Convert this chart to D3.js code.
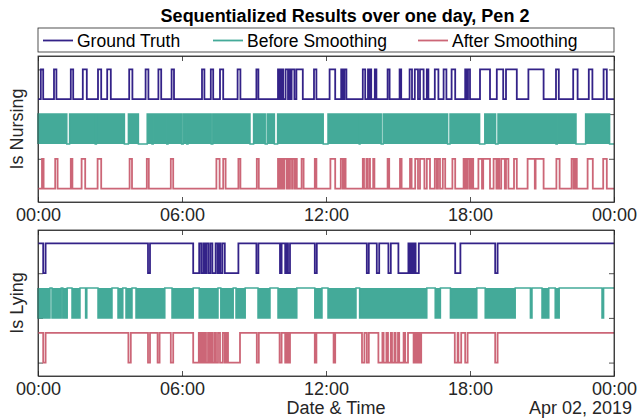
<!DOCTYPE html>
<html>
<head>
<meta charset="utf-8">
<script src="https://cdn.jsdelivr.net/npm/d3@7"></script>
<style>
  body { margin: 0; background: #fff; }
  text { font-family: "Liberation Sans", Arial, sans-serif; }
</style>
</head>
<body>
<div id="vis"></div>
<script>
// series names and colours
let seriesNames = ['Ground Truth', 'Before Smoothing', 'After Smoothing'];
let seriesColors = ['#332288', '#44AA99', '#CC6677'];

// x tick hours
let tickHours = [0, 6, 12, 18, 24];

// --- Is Nursing (hours of day) ---
// ground truth: intervals where nursing = 1
let nurseTruth = [[0.12,0.22],[0.66,0.76],[1.36,1.46],[1.86,2.04],[2.5,2.64],[2.88,3.03],[3.8,3.94],
  [4.48,4.6],[5.02,5.14],[5.56,5.66],[6.84,6.94],[7.2,7.3],[7.58,7.72],[8.32,8.44],[9.1,9.18],
  [10.0,10.04],[10.08,10.12],[10.16,10.21],[10.31,10.42],[10.46,10.52],[10.56,10.69],[10.76,11.04],
  [11.5,11.6],[12.15,12.39],[12.64,12.7],[12.76,12.85],[13.54,13.64],[13.75,13.8],[13.84,13.89],
  [14.03,14.1],[14.56,14.65],[15.07,15.14],[15.49,15.58],[15.7,15.83],[15.92,16.06],[16.2,16.27],
  [16.54,16.68],[16.9,17.02],[17.24,17.38],[17.8,17.86],[17.92,18.0],[18.42,18.84],[19.11,19.39],
  [19.5,19.95],[20.43,21.06],[21.58,21.7],[22.3,22.48],[22.95,23.1],[23.56,23.7]];
// before smoothing: quiet stretches (held at 0), otherwise flickering
let nurseRawQuiet = [[1.2,1.31],[2.38,2.43],[3.6,3.76],[4.18,4.55],[4.75,4.8],[5.36,5.42],[5.98,6.05],
  [6.2,6.25],[7.22,7.28],[8.83,8.98],[9.47,9.55],[9.85,9.98],[11.88,12.08],[13.38,13.42],[14.3,14.38],
  [17.06,17.16],[18.4,18.62],[19.07,19.17],[21.58,21.64],[22.42,22.82],[23.82,24]];
// after smoothing: intervals where nursing = 1
let nurseSmooth = [[0.17,0.24],[0.71,0.81],[1.36,1.44],[1.82,1.96],[2.49,2.63],[3.81,3.92],[4.53,4.62],
  [5.54,5.64],[7.44,7.56],[7.72,7.81],[8.35,8.44],[9.11,9.2],[10.0,10.05],[10.08,10.14],[10.18,10.22],
  [10.26,10.36],[10.4,10.45],[10.5,10.58],[10.62,10.7],[10.73,10.78],[10.99,11.06],[11.54,11.6],
  [12.18,12.39],[12.62,12.7],[12.75,12.82],[13.54,13.58],[13.68,13.72],[13.8,13.84],[13.96,14.02],
  [14.56,14.64],[15.08,15.15],[15.5,15.57],[15.72,15.84],[15.92,16.1],[16.2,16.34],[16.54,16.62],
  [16.66,16.75],[16.86,16.96],[17.26,17.38],[17.73,17.78],[17.82,17.86],[17.9,17.98],[18.02,18.07],
  [18.1,18.14],[18.35,18.5],[18.55,18.84],[18.98,19.1],[19.15,19.22],[19.3,19.45],[19.5,19.6],
  [19.84,19.95],[20.4,20.7],[20.74,21.06],[21.6,21.74],[22.24,22.32],[22.38,22.45],[22.9,23.12],[23.55,23.7]];

// --- Is Lying (hours of day) ---
// ground truth: intervals where lying = 0
let lieTruth = [[0.22,0.32],[4.58,4.66],[6.47,6.72],[6.8,6.88],[6.95,7.02],[7.1,7.18],[7.26,7.4],
  [7.48,7.54],[7.6,7.68],[7.78,8.35],[9.1,9.18],[10.08,10.15],[10.3,10.36],[10.42,10.5],[11.54,11.62],
  [13.7,13.78],[14.12,14.22],[14.6,14.7],[15.02,15.44],[15.5,15.56],[15.62,15.68],[15.74,15.86],
  [17.39,17.6],[19.05,19.15]];
// before smoothing: quiet stretches (held at 1), otherwise flickering
let lieRawQuiet = [[0.5,0.58],[0.96,1.04],[1.21,1.42],[1.75,1.98],[2.04,2.5],[3.08,3.33],[3.54,3.67],
  [3.92,4.08],[5.29,5.58],[6.46,6.71],[7.5,7.62],[8.13,8.25],[8.63,9.17],[9.67,10.0],[10.79,11.54],
  [11.83,12.08],[13.25,13.4],[16.2,16.55],[16.76,17.18],[18.29,18.64],[19.89,20.51],[20.58,21.0],
  [21.28,21.55],[21.72,23.5],[23.56,24]];
// after smoothing: intervals where lying = 0
let lieSmooth = [[0.22,0.32],[3.76,3.86],[4.58,4.66],[4.98,5.06],[5.54,5.63],[6.47,6.7],[6.76,6.82],
  [6.88,6.95],[7.0,7.08],[7.14,7.2],[7.27,7.35],[7.42,7.5],[7.58,7.7],[7.78,7.85],[7.92,8.42],
  [9.11,9.2],[10.06,10.15],[10.3,10.37],[10.43,10.5],[11.54,11.6],[12.32,12.39],[13.5,13.6],
  [13.7,13.78],[14.19,14.35],[14.4,14.52],[14.58,14.7],[14.75,14.85],[14.9,15.0],[15.05,15.23],
  [15.3,15.42],[15.65,15.72],[15.78,15.85],[15.9,15.97],[17.36,17.48],[17.52,17.64],[17.8,17.9],
  [19.05,19.15]];

// vertical offsets of the three traces (low value of each)
let offsets = [3, 1.5, 0];

let width = 644;
let height = 419;
let left = 38, right = 614;
let axisColor = '#262626';
let day0 = new Date(2019, 3, 1);

let svg = d3.select('#vis').append('svg')
  .attr('width', width)
  .attr('height', height);

let x = d3.scaleTime()
  .domain([day0, d3.timeHour.offset(day0, 24)])
  .range([left, right]);
let hx = h => x(d3.timeMinute.offset(day0, Math.round(h * 60)));

// step points for a 0/1 signal held at `base`, switching to `alt` in intervals
function stepPoints(intervals, base, alt) {
  let pts = [[0, base]];
  intervals.forEach(function (d) {
    pts.push([d[0], base], [d[0], alt], [d[1], alt], [d[1], base]);
  });
  pts.push([24, base]);
  return pts;
}

// complement of quiet stretches = flickering bursts
function bursts(quiet) {
  let out = [];
  let t = 0;
  quiet.forEach(function (d) {
    if (d[0] > t) out.push([t, d[0]]);
    t = d[1];
  });
  if (t < 24) out.push([t, 24]);
  return out;
}

function drawPanel(top, bottom, truth, rawQuiet, smooth, holdHigh, yTicks, yLabel) {
  let y = d3.scaleLinear().domain([-0.45, 4.45]).range([bottom, top]);
  let g = svg.append('g');

  // axes (ticks beneath the data)
  g.append('g')
    .attr('transform', 'translate(0,' + bottom + ')')
    .call(d3.axisBottom(x).tickValues(tickHours.map(h => d3.timeHour.offset(day0, h)))
      .tickFormat(d3.timeFormat('%H:%M')).tickSizeInner(-5).tickSizeOuter(0).tickPadding(6))
    .call(a => a.selectAll('text').attr('font-size', 18).attr('fill', axisColor)
      .attr('font-family', '"Liberation Sans", Arial, sans-serif'));
  g.append('g')
    .attr('transform', 'translate(0,' + top + ')')
    .call(d3.axisTop(x).tickValues(tickHours.map(h => d3.timeHour.offset(day0, h)))
      .tickFormat('').tickSizeInner(-5).tickSizeOuter(0));
  g.append('g')
    .attr('transform', 'translate(' + left + ',0)')
    .call(d3.axisLeft(y).tickValues(yTicks).tickFormat('').tickSizeInner(-5).tickSizeOuter(0));
  g.append('g')
    .attr('transform', 'translate(' + right + ',0)')
    .call(d3.axisRight(y).tickValues(yTicks).tickFormat('').tickSizeInner(-5).tickSizeOuter(0));
  g.selectAll('.domain, .tick line').attr('stroke', axisColor).attr('stroke-width', 0.8);

  let line = d3.line().x(d => hx(d[0])).y(d => y(d[1]));

  // ground truth and smoothed: held level is high for lying, low for nursing
  let hold = holdHigh ? 1 : 0;
  [[truth, 0], [smooth, 2]].forEach(function (s) {
    let off = offsets[s[1]];
    g.append('path')
      .attr('d', line(stepPoints(s[0], off + hold, off + 1 - hold)))
      .attr('fill', 'none')
      .attr('stroke', seriesColors[s[1]])
      .attr('stroke-width', 1.8);
  });

  // before smoothing: flicker bursts fill the band, quiet stretches are a flat line
  let off = offsets[1];
  let burstList = bursts(rawQuiet);
  let area = d3.area().x(d => hx(d[0])).y0(y(off + hold)).y1(d => y(d[1]));
  let rawPts = stepPoints(burstList, off + hold, off + 1 - hold);
  g.append('path')
    .attr('d', area(rawPts))
    .attr('fill', seriesColors[1]);
  g.append('path')
    .attr('d', line(rawPts))
    .attr('fill', 'none')
    .attr('stroke', seriesColors[1])
    .attr('stroke-width', 1.5);

  // box
  g.append('rect')
    .attr('x', left).attr('y', top)
    .attr('width', right - left).attr('height', bottom - top)
    .attr('fill', 'none')
    .attr('stroke', axisColor)
    .attr('stroke-width', 0.8);

  svg.append('text')
    .attr('transform', 'translate(23,' + (top + bottom) / 2 + ') rotate(-90)')
    .attr('text-anchor', 'middle')
    .attr('font-size', 18)
    .attr('fill', axisColor)
    .text(yLabel);
}

drawPanel(56, 202, nurseTruth, nurseRawQuiet, nurseSmooth, false, [1, 2.5, 4], 'Is Nursing');
drawPanel(230, 376, lieTruth, lieRawQuiet, lieSmooth, true, [0, 1.5, 3], 'Is Lying');

// title
svg.append('text')
  .attr('x', 345).attr('y', 22)
  .attr('text-anchor', 'middle')
  .attr('font-size', 18)
  .attr('font-weight', 'bold')
  .attr('fill', '#000')
  .text('Sequentialized Results over one day, Pen 2');

// legend
let legend = svg.append('g');
legend.append('rect')
  .attr('x', left).attr('y', 28)
  .attr('width', right - left).attr('height', 24)
  .attr('fill', '#fff')
  .attr('stroke', axisColor)
  .attr('stroke-width', 0.8);
let legendX = [43, 213, 418];
seriesNames.forEach(function (name, i) {
  legend.append('line')
    .attr('x1', legendX[i]).attr('x2', legendX[i] + 30)
    .attr('y1', 40.5).attr('y2', 40.5)
    .attr('stroke', seriesColors[i])
    .attr('stroke-width', 1.8);
  legend.append('text')
    .attr('x', legendX[i] + 34).attr('y', 46.5)
    .attr('font-size', 17.5)
    .attr('fill', '#000')
    .text(name);
});

// x label and date
svg.append('text')
  .attr('x', 336).attr('y', 414)
  .attr('text-anchor', 'middle')
  .attr('font-size', 18)
  .attr('fill', axisColor)
  .text('Date & Time');
svg.append('text')
  .attr('x', 632).attr('y', 414)
  .attr('text-anchor', 'end')
  .attr('font-size', 18)
  .attr('fill', axisColor)
  .text('Apr 02, 2019');
</script>
</body>
</html>
